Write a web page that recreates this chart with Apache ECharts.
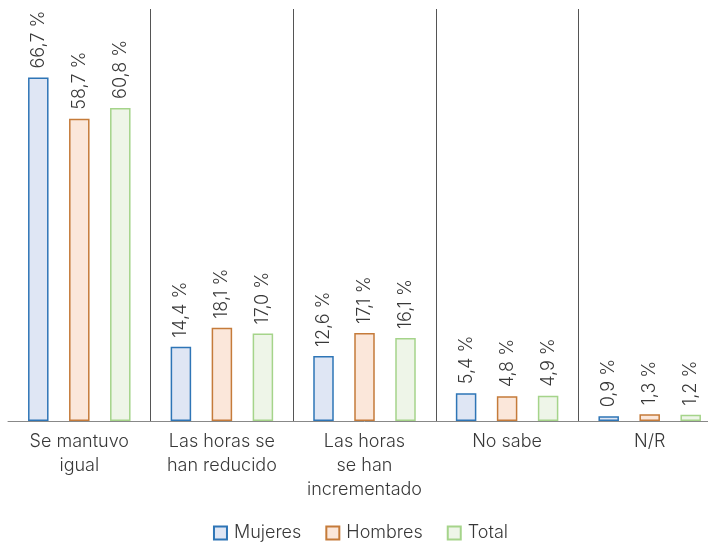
<!DOCTYPE html>
<html>
<head>
<meta charset="utf-8">
<script src="https://cdn.jsdelivr.net/npm/echarts@6/dist/echarts.min.js"></script>
<style>html,body{margin:0;padding:0;background:#fff;overflow:hidden}#c{width:721px;height:542px}</style>
</head>
<body>
<div id="c"></div>
<script>
const categories = ['Se mantuvo\nigual', 'Las horas se\nhan reducido', 'Las horas\nse han\nincrementado', 'No sabe', 'N/R'];
const mujeres = [66.7, 14.4, 12.6, 5.4, 0.9];
const hombres = [58.7, 18.1, 17.1, 4.8, 1.3];
const total = [60.8, 17.0, 16.1, 4.9, 1.2];
const seriesNames = ['Mujeres', 'Hombres', 'Total'];

const FONT = 'Inter';
const fmt = p => p.value.toFixed(1).replace('.', ',') + ' %';
function mk(name, data, fill, border) {
  return {
    name, type: 'bar', data,
    barWidth: 20.5, barGap: '100%',
    itemStyle: { color: fill, borderColor: border, borderWidth: 1.5 },
    label: {
      show: true, position: 'top', rotate: 90, align: 'left', verticalAlign: 'middle',
      distance: 9, formatter: fmt, fontFamily: FONT, fontSize: 18, fontWeight: 350, color: '#383838'
    }
  };
}
const chart = echarts.init(document.getElementById('c'));
chart.setOption({
  animation: false,
  textStyle: { fontFamily: FONT },
  grid: { left: 8, right: 0, top: 9, height: 412, containLabel: false },
  legend: {
    top: 519, left: 'center', icon: 'rect', itemWidth: 13, itemHeight: 13, itemGap: 24,
    textStyle: { fontFamily: FONT, fontSize: 18, fontWeight: 350, color: '#383838', padding: [0, 0, 0, 2] },
    data: seriesNames
  },
  xAxis: {
    type: 'category', data: categories,
    axisLine: { lineStyle: { color: '#888', width: 1 } },
    axisTick: { show: false },
    axisLabel: { fontFamily: FONT, fontSize: 18, fontWeight: 350, color: '#383838', lineHeight: 24, margin: 9, interval: 0 },
    splitLine: { show: true, interval: (i) => i !== 0, lineStyle: { color: '#555', width: 1 } }
  },
  yAxis: { type: 'value', min: 0, max: 80, show: false, splitLine: { show: false } },
  series: [
    mk(seriesNames[0], mujeres, '#dfe6f4', '#2e75b6'),
    mk(seriesNames[1], hombres, '#fbe7da', '#c57b3a'),
    mk(seriesNames[2], total, '#eef5e8', '#a5d48a')
  ]
});
</script>
</body>
</html>
